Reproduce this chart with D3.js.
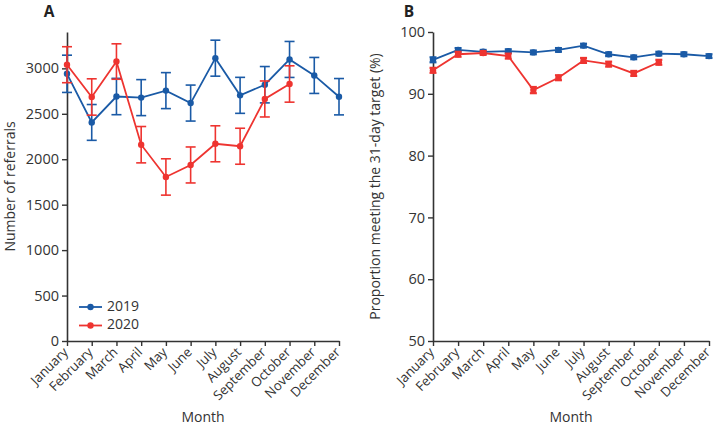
<!DOCTYPE html>
<html><head><meta charset="utf-8">
<script src="https://cdn.jsdelivr.net/npm/d3@7"></script>
<style>
body{margin:0;background:#fff;}
text{font-family:"Open Sans",sans-serif;fill:#333;}
</style></head>
<body><svg id="c" width="714" height="426"></svg>
<script>
const months = ["January","February","March","April","May","June","July","August","September","October","November","December"];
const ref2019 = [2940,2405,2690,2678,2755,2618,3112,2703,2820,3098,2922,2688];
const ref2019Err = [205,197,200,198,198,198,198,198,200,198,198,200];
const ref2020 = [3040,2685,3075,2160,1805,1937,2170,2143,2663,2828];
const ref2020Err = [198,200,195,200,200,198,198,198,198,200];
const pct2019 = [95.5,97.1,96.8,96.9,96.7,97.1,97.8,96.4,95.9,96.5,96.4,96.1];
const pct2019Err = [0.4,0.3,0.3,0.3,0.3,0.3,0.3,0.3,0.3,0.3,0.3,0.3];
const pct2020 = [93.8,96.4,96.6,96.1,90.6,92.6,95.4,94.8,93.3,95.1];
const pct2020Err = [0.4,0.4,0.3,0.4,0.5,0.4,0.4,0.4,0.4,0.4];
const yTicksA = [0,500,1000,1500,2000,2500,3000];
const yTicksB = [50,60,70,80,90,100];
const seriesNames = ["2019","2020"];
const colors = ["#1a5aa6","#ee3430"];

const svg = d3.select("#c");

function panel(opt){
  const g = svg.append("g");
  const x = d3.scalePoint().domain(months).range([opt.x0, opt.x1]);
  const y = d3.scaleLinear().domain(opt.domain).range([opt.yb, opt.yt]);
  const ya = g.append("g").attr("transform",`translate(${opt.x0},0)`)
    .call(d3.axisLeft(y).tickValues(opt.ticks).tickFormat(d3.format("d")).tickSize(5).tickPadding(3).tickSizeOuter(0));
  const xa = g.append("g").attr("transform",`translate(0,${opt.yb})`)
    .call(d3.axisBottom(x).tickSize(5).tickSizeOuter(0));
  [ya,xa].forEach(a=>{
    a.select(".domain").attr("stroke","#333").attr("stroke-width",1.6);
    a.selectAll(".tick line").attr("stroke","#333").attr("stroke-width",1.4);
    a.selectAll("text").style("font-family","Open Sans, sans-serif").attr("fill","#333");
  });
  ya.selectAll("text").attr("font-size",14.5);
  xa.selectAll(".tick text").attr("font-size",13.2).attr("text-anchor","end").attr("dy",null).attr("y",null)
    .attr("transform","translate(1.5,12) rotate(-45)");
  g.append("text").attr("x",opt.xl).attr("y",16.5).attr("font-size",15.5).attr("font-weight","bold")
    .attr("text-anchor","middle").style("fill","#222").text(opt.letter);
  g.append("text").attr("x",(opt.x0+opt.x1)/2).attr("y",418).attr("font-size",14)
    .attr("text-anchor","middle").attr("dominant-baseline","middle").text("Month");
  g.append("text").attr("transform",`translate(${opt.yLabX},${(opt.yb+opt.yt)/2}) rotate(-90)`)
    .attr("font-size",14).attr("text-anchor","middle").attr("dominant-baseline","middle").text(opt.ylabel);
  opt.series.forEach((s,si)=>{
    const sg = g.append("g");
    const col = colors[si];
    const pts = s.v.map((v,i)=>({m:months[i],v,e:s.e[i]}));
    sg.selectAll("line.err").data(pts).join("line")
      .attr("x1",d=>x(d.m)).attr("x2",d=>x(d.m))
      .attr("y1",d=>y(d.v-d.e)).attr("y2",d=>y(d.v+d.e))
      .attr("stroke",col).attr("stroke-width",1.6);
    [-1,1].forEach(sgn=>{
      sg.selectAll(null).data(pts).join("line")
        .attr("x1",d=>x(d.m)-opt.cap).attr("x2",d=>x(d.m)+opt.cap)
        .attr("y1",d=>y(d.v+sgn*d.e)).attr("y2",d=>y(d.v+sgn*d.e))
        .attr("stroke",col).attr("stroke-width",opt.capW);
    });
    sg.append("path").datum(pts)
      .attr("d",d3.line().x(d=>x(d.m)).y(d=>y(d.v)))
      .attr("fill","none").attr("stroke",col).attr("stroke-width",1.8);
    sg.selectAll("circle").data(pts).join("circle")
      .attr("cx",d=>x(d.m)).attr("cy",d=>y(d.v)).attr("r",3.2).attr("fill",col);
  });
  return {x,y,g};
}

panel({x0:67,x1:339,yb:341,yt:32,domain:[0,3400],ticks:yTicksA,letter:"A",xl:49,yLabX:11,
  ylabel:"Number of referrals",cap:5,capW:1.6,
  series:[{v:ref2019,e:ref2019Err},{v:ref2020,e:ref2020Err}]});
panel({x0:433,x1:709,yb:341,yt:32,domain:[50,100],ticks:yTicksB,letter:"B",xl:409,yLabX:376,
  ylabel:"Proportion meeting the 31-day target (%)",cap:3.5,capW:2.2,
  series:[{v:pct2019,e:pct2019Err},{v:pct2020,e:pct2020Err}]});

const lg = svg.append("g");
seriesNames.forEach((n,i)=>{
  const yy = 307 + i*18.5;
  lg.append("line").attr("x1",79).attr("x2",102).attr("y1",yy).attr("y2",yy).attr("stroke",colors[i]).attr("stroke-width",1.8);
  lg.append("circle").attr("cx",90.5).attr("cy",yy).attr("r",3.2).attr("fill",colors[i]);
  lg.append("text").attr("x",107).attr("y",yy).attr("font-size",14).attr("dominant-baseline","middle").text(n);
});
</script></body></html>
